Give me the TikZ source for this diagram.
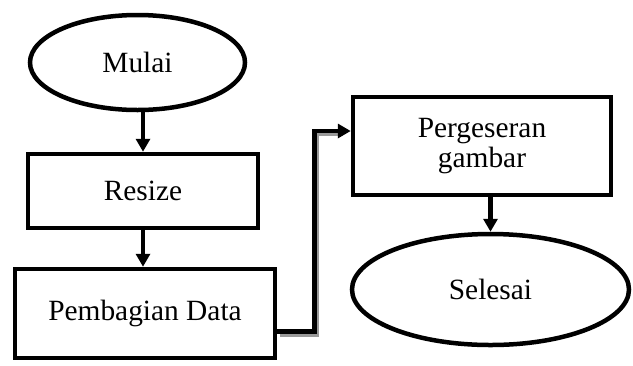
\documentclass[tikz,border=0pt]{standalone}
\usepackage{fontspec}
\setmainfont{Liberation Serif}
\usetikzlibrary{shapes.geometric,arrows.meta}
\begin{document}
\begin{tikzpicture}[x=1bp,y=-1bp,
  every node/.style={font=\fontsize{29.5}{33}\selectfont, inner sep=0pt, line width=4.5bp, draw, align=center},
  terminal/.style={ellipse},
  process/.style={rectangle},
  flow/.style={line width=4.5bp, -{Triangle[length=13bp,width=14bp]}},
  flowshadow/.style={line width=4bp, draw=black!40}]
\useasboundingbox (0,0) rectangle (633,365);
\node[terminal, minimum width=215bp, minimum height=95bp] (mulai) at (137.5,62.5) {\raisebox{-4bp}{Mulai}};
\node[process, minimum width=230bp, minimum height=74bp] (resize) at (143,191) {\raisebox{-3bp}{Resize}};
\node[process, minimum width=260bp, minimum height=89bp] (bagi) at (145,313.5) {\raisebox{-6bp}{Pembagian Data}};
\node[process, minimum width=258bp, minimum height=98bp] (geser) at (482,146) {\raisebox{-3bp}{\begin{tabular}{@{}c@{}}Pergeseran\\[-3bp]gambar\end{tabular}}};
\node[terminal, minimum width=277bp, minimum height=111bp] (selesai) at (490.5,289.5) {\raisebox{-5bp}{Selesai}};
% vertical links
\draw[flow] (resize.north |- mulai.south) -- (resize.north);
\draw[flow] (resize.south) -- (resize.south |- bagi.north);
\draw[flow] (selesai.north |- geser.south) -- (selesai.north);
% elbow link with its drop shadow
\draw[flowshadow] ([xshift=3bp,yshift=-21bp]bagi.east) -- ++(37,0) |- ([xshift=-8bp,yshift=12bp]geser.west);
\draw[flow] ([yshift=-18bp]bagi.east) -- ++(37,0) |- ([yshift=15bp]geser.west);
\end{tikzpicture}
\end{document}
